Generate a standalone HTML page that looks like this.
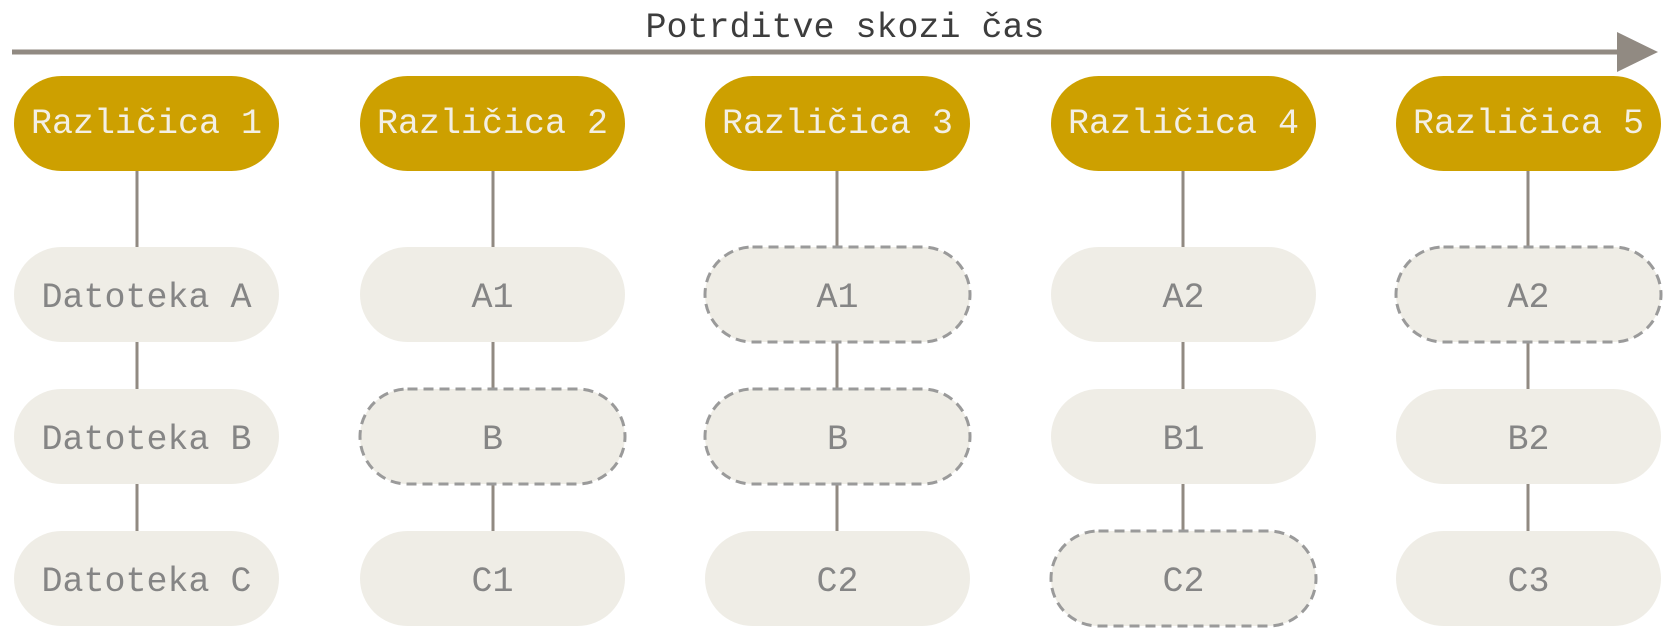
<!DOCTYPE html>
<html><head><meta charset="utf-8"><style>
html,body{margin:0;padding:0;background:#fff;}
svg{display:block;}
text{font-family:"Liberation Mono",monospace;font-size:35px;text-anchor:middle;}
</style></head><body>
<svg width="1674" height="639" viewBox="0 0 1674 639" xmlns="http://www.w3.org/2000/svg">
<text x="845" y="37" fill="#3d3d3d">Potrditve skozi čas</text>
<line x1="12" y1="52" x2="1620" y2="52" stroke="#918a82" stroke-width="5"/>
<polygon points="1617,32 1658,52 1617,72" fill="#918a82"/>
<g stroke="#918a82" stroke-width="3">
<line x1="137" y1="171" x2="137" y2="531"/>
<line x1="493" y1="171" x2="493" y2="531"/>
<line x1="837" y1="171" x2="837" y2="531"/>
<line x1="1183" y1="171" x2="1183" y2="531"/>
<line x1="1528" y1="171" x2="1528" y2="531"/>
</g>
<g fill="#cda000">
<rect x="14" y="76" width="265" height="95" rx="47.5"/>
<rect x="360" y="76" width="265" height="95" rx="47.5"/>
<rect x="705" y="76" width="265" height="95" rx="47.5"/>
<rect x="1051" y="76" width="265" height="95" rx="47.5"/>
<rect x="1396" y="76" width="265" height="95" rx="47.5"/>
</g>
<g fill="#f3efe4">
<text x="146.5" y="133">Različica 1</text>
<text x="492.5" y="133">Različica 2</text>
<text x="837.5" y="133">Različica 3</text>
<text x="1183.5" y="133">Različica 4</text>
<text x="1528.5" y="133">Različica 5</text>
</g>
<g fill="#efede6">
<rect x="14" y="247" width="265" height="95" rx="47.5"/>
<rect x="14" y="389" width="265" height="95" rx="47.5"/>
<rect x="14" y="531" width="265" height="95" rx="47.5"/>
<rect x="360" y="247" width="265" height="95" rx="47.5"/>
<rect x="360" y="531" width="265" height="95" rx="47.5"/>
<rect x="705" y="531" width="265" height="95" rx="47.5"/>
<rect x="1051" y="247" width="265" height="95" rx="47.5"/>
<rect x="1051" y="389" width="265" height="95" rx="47.5"/>
<rect x="1396" y="389" width="265" height="95" rx="47.5"/>
<rect x="1396" y="531" width="265" height="95" rx="47.5"/>
</g>
<g fill="#efede6" stroke="#9a9a9a" stroke-width="3" stroke-dasharray="10,6">
<rect x="360" y="389" width="265" height="95" rx="47.5"/>
<rect x="705" y="247" width="265" height="95" rx="47.5"/>
<rect x="705" y="389" width="265" height="95" rx="47.5"/>
<rect x="1051" y="531" width="265" height="95" rx="47.5"/>
<rect x="1396" y="247" width="265" height="95" rx="47.5"/>
</g>
<g fill="#858585">
<text x="146.5" y="307">Datoteka A</text>
<text x="146.5" y="449">Datoteka B</text>
<text x="146.5" y="591">Datoteka C</text>
<text x="492.5" y="307">A1</text>
<text x="492.5" y="449">B</text>
<text x="492.5" y="591">C1</text>
<text x="837.5" y="307">A1</text>
<text x="837.5" y="449">B</text>
<text x="837.5" y="591">C2</text>
<text x="1183.5" y="307">A2</text>
<text x="1183.5" y="449">B1</text>
<text x="1183.5" y="591">C2</text>
<text x="1528.5" y="307">A2</text>
<text x="1528.5" y="449">B2</text>
<text x="1528.5" y="591">C3</text>
</g>
</svg>
</body></html>
